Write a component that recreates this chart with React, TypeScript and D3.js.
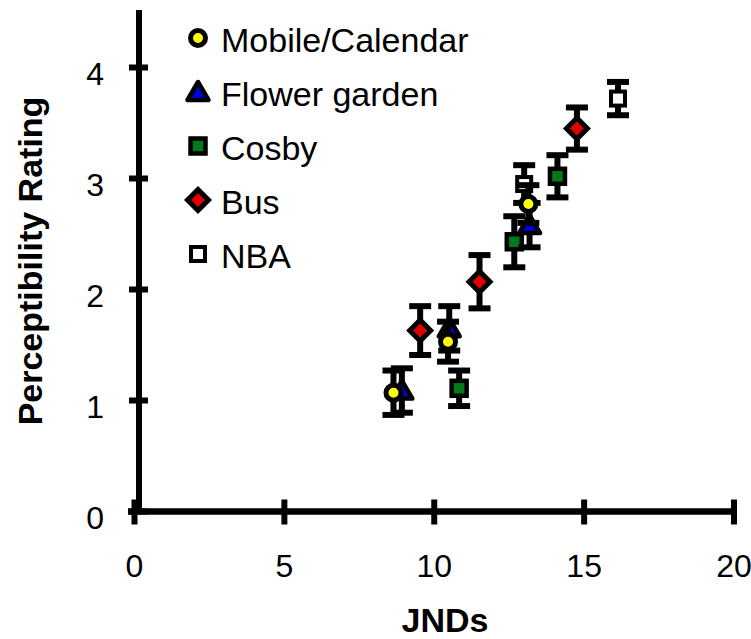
import * as d3 from "d3";

const W = 751;
const H = 639;

const xTicks = [0, 5, 10, 15, 20];
const yTicks = [0, 1, 2, 3, 4];

const seriesNames = ["Mobile/Calendar", "Flower garden", "Cosby", "Bus", "NBA"];

// JNDs, rating, error (+/-)
const mobileX = [8.64, 10.46, 13.14];
const mobileY = [1.07, 1.53, 2.77];
const mobileErr = [0.2, 0.18, 0.17];

const flowerX = [8.92, 10.5, 13.18];
const flowerY = [1.09, 1.65, 2.58];
const flowerErr = [0.2, 0.2, 0.2];

const cosbyX = [10.83, 12.67, 14.11];
const cosbyY = [1.11, 2.43, 3.02];
const cosbyErr = [0.16, 0.23, 0.19];

const busX = [9.53, 11.51, 14.76];
const busY = [1.63, 2.07, 3.45];
const busErr = [0.22, 0.24, 0.19];

const nbaX = [13.0, 16.13];
const nbaY = [2.95, 3.72];
const nbaErr = [0.17, 0.15];

const FONT = "'Liberation Sans', Arial, Helvetica, sans-serif";

type Shape = "circle" | "triangle" | "square" | "diamond" | "hollow";

function Marker({ shape, x, y }: { shape: Shape; x: number; y: number }) {
  const t = `translate(${x},${y})`;
  if (shape === "circle")
    return <circle transform={t} r={7.5} fill="#ffff00" stroke="#000" strokeWidth={5} />;
  if (shape === "triangle")
    return (
      <path transform={t} d="M0,-10L10.5,8L-10.5,8Z" fill="#0000dd" stroke="#000"
        strokeWidth={4.5} strokeLinejoin="round" />
    );
  if (shape === "square")
    return <rect transform={t} x={-7.5} y={-7.5} width={15} height={15} fill="#007a1a" stroke="#000" strokeWidth={4.5} />;
  if (shape === "hollow")
    return <rect transform={t} x={-7} y={-7} width={14} height={14} fill="#fff" stroke="#000" strokeWidth={4} />;
  return (
    <path transform={t} d="M0,-10.5L10.5,0L0,10.5L-10.5,0Z" fill="#e00000" stroke="#000"
      strokeWidth={5} strokeLinejoin="miter" />
  );
}

export default function App() {
  const x = d3.scaleLinear().domain([0, 20]).range([134.5, 734]);
  const y = d3.scaleLinear().domain([0, 4.5]).range([511.5, 12]);
  const yAxisX = 139;

  const series = [
    { name: seriesNames[0], shape: "circle" as Shape, xs: mobileX, ys: mobileY, es: mobileErr },
    { name: seriesNames[1], shape: "triangle" as Shape, xs: flowerX, ys: flowerY, es: flowerErr },
    { name: seriesNames[2], shape: "square" as Shape, xs: cosbyX, ys: cosbyY, es: cosbyErr },
    { name: seriesNames[3], shape: "diamond" as Shape, xs: busX, ys: busY, es: busErr },
    { name: seriesNames[4], shape: "hollow" as Shape, xs: nbaX, ys: nbaY, es: nbaErr },
  ];
  // later series sit underneath
  const drawOrder = [...series].reverse();

  return (
    <svg width={W} height={H} style={{ position: "absolute", left: 0, top: 0, background: "#fff" }}
      fontFamily={FONT}>
      {/* axes */}
      <line x1={yAxisX} x2={yAxisX} y1={10} y2={y(0)} stroke="#000" strokeWidth={6} />
      <line x1={128} x2={737} y1={y(0)} y2={y(0)} stroke="#000" strokeWidth={6.5} />
      {yTicks.map((t) => (
        <g key={"y" + t}>
          <line x1={yAxisX - 10} x2={yAxisX + 9} y1={y(t)} y2={y(t)} stroke="#000" strokeWidth={6} />
          <text x={104} y={y(t) + 17} textAnchor="end" fontSize={32}>{t}</text>
        </g>
      ))}
      {xTicks.map((t) => (
        <g key={"x" + t}>
          <line x1={x(t)} x2={x(t)} y1={y(0) - 12} y2={y(0) + 13} stroke="#000" strokeWidth={6} />
          <text x={x(t)} y={577} textAnchor="middle" fontSize={32}>{t}</text>
        </g>
      ))}

      {/* error bars + markers */}
      {drawOrder.map((s) => (
        <g key={s.name}>
          {s.xs.map((xv, i) => {
            const cx = x(xv);
            const top = y(s.ys[i] + s.es[i]);
            const bot = y(s.ys[i] - s.es[i]);
            return (
              <g key={i} stroke="#000" strokeWidth={6}>
                <line x1={cx} x2={cx} y1={top} y2={bot} />
                <line x1={cx - 11} x2={cx + 11} y1={top} y2={top} />
                <line x1={cx - 11} x2={cx + 11} y1={bot} y2={bot} />
              </g>
            );
          })}
          {s.xs.map((xv, i) => (
            <Marker key={"m" + i} shape={s.shape} x={x(xv)} y={y(s.ys[i])} />
          ))}
        </g>
      ))}

      {/* legend */}
      {series.map((s, i) => {
        const base = 52 + i * 54;
        return (
          <g key={"lg" + i}>
            <Marker shape={s.shape} x={198} y={base - 14} />
            <text x={221} y={base} fontSize={34}>{s.name}</text>
          </g>
        );
      })}

      {/* axis titles */}
      <text x={445} y={632} textAnchor="middle" fontSize={34} fontWeight="bold">JNDs</text>
      <text transform="translate(42,261) rotate(-90)" textAnchor="middle" fontSize={34} fontWeight="bold">
        Perceptibility Rating
      </text>
    </svg>
  );
}
